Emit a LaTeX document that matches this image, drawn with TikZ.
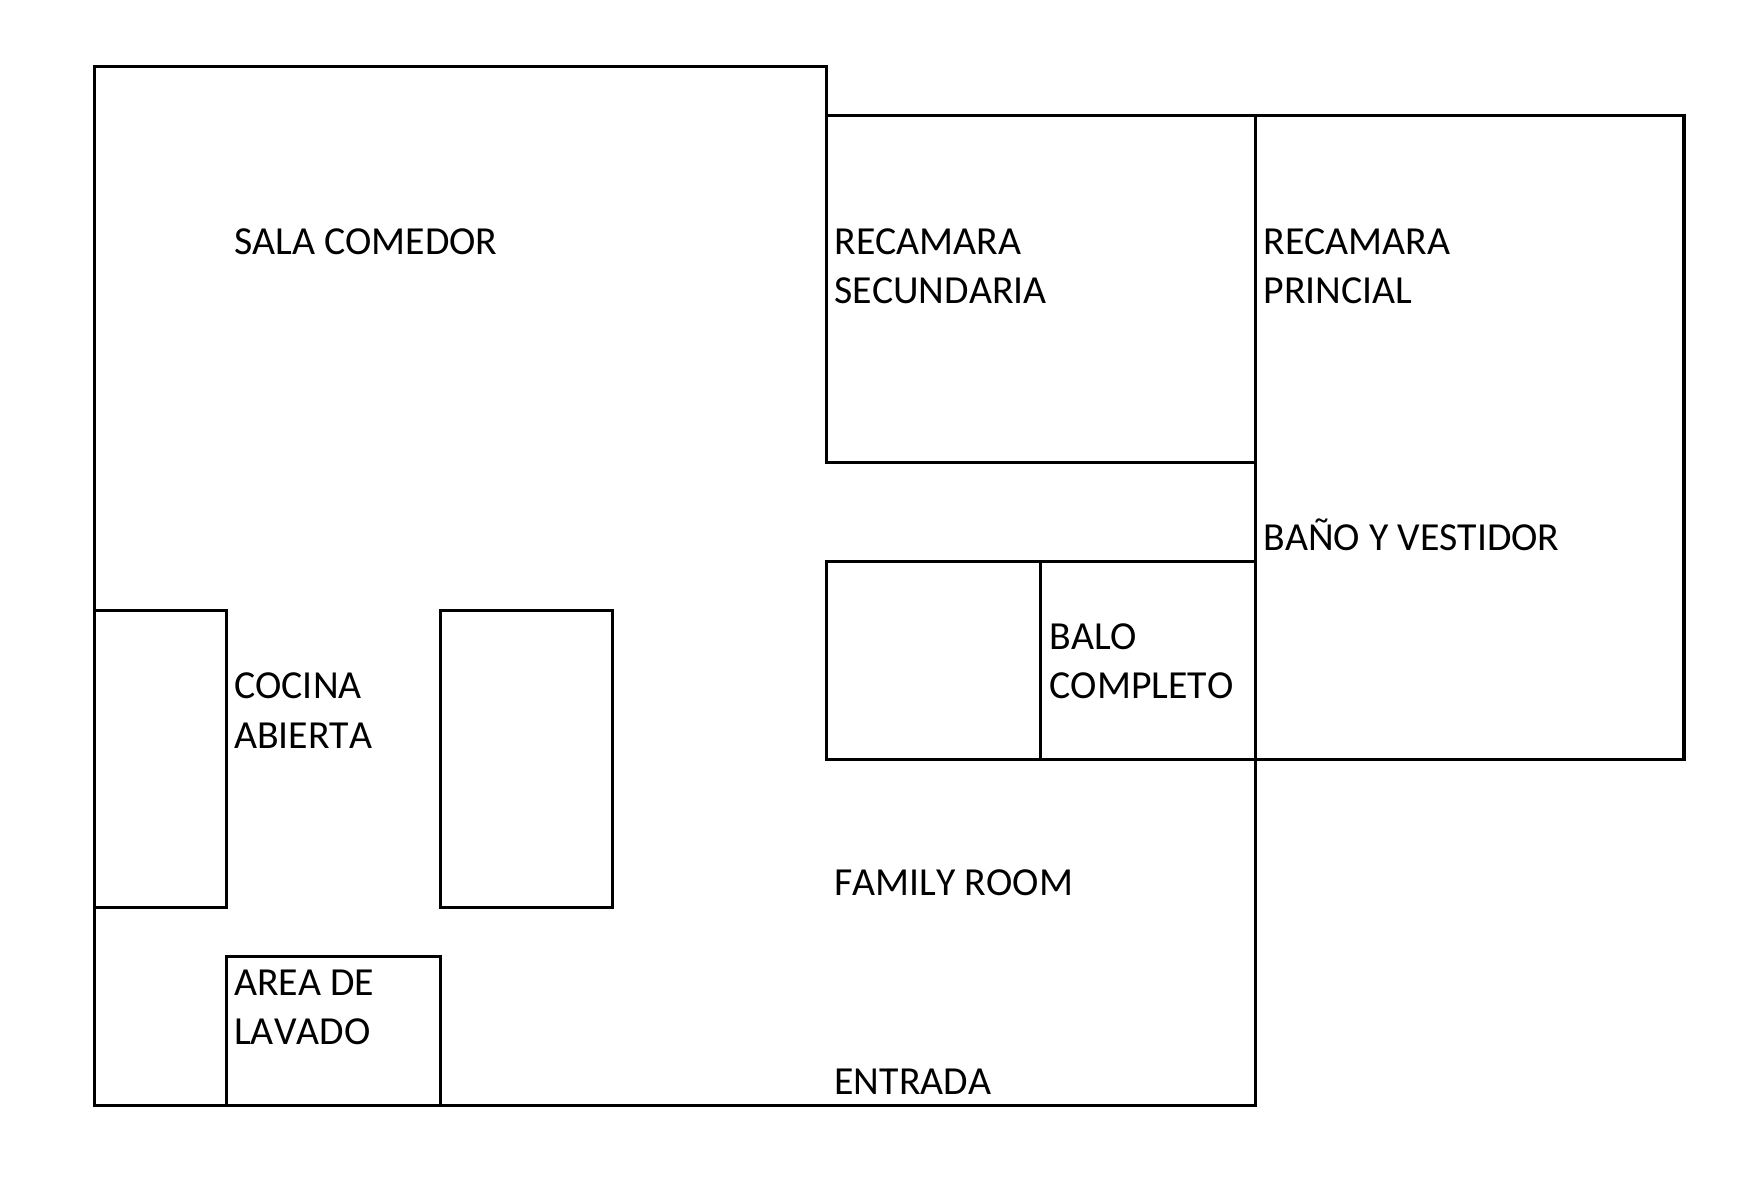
\documentclass[tikz,border=0pt]{standalone}
\usepackage{fontspec}
\setmainfont[Kerning=Off]{Carlito}
\tikzset{
  roomlabel/.style={anchor=base west,inner sep=0pt,align=left,font=\fontsize{35.5}{44}\selectfont},
  wall/.style={line width=2.8pt,line join=miter}
}
\begin{document}
\begin{tikzpicture}[x=1pt,y=-1pt]

      \useasboundingbox (0,0) rectangle (1568,1069.7);

      \coordinate (A) at (84.7,59.7);
      \coordinate (B) at (738,59.7);
      \coordinate (C) at (738,103.5);
      \coordinate (D) at (1503.7,103.5);
      \coordinate (E) at (1503.7,678);
      \coordinate (F) at (1121,678);
      \coordinate (G) at (1121,987);
      \coordinate (H) at (84.7,987);
      \coordinate (T) at (1121,103.5);

      % outer walls
      \draw[wall] (A)--(B)--(C)--(D)--(E)--(F)--(G)--(H)--cycle;
      \draw[wall] (T)--(F);

      % bedroom and bath
      \draw[wall] (738,103.5) rectangle (1121,413);
      \draw[wall] (738,501) rectangle (1121,678);
      \draw[wall] (929,501)--(929,678);

      % kitchen and laundry
      \draw[wall] (84.7,545) rectangle (202.5,810);
      \draw[wall] (393.7,545) rectangle (547,810);
      \draw[wall] (202.5,854) rectangle (393.7,987);

      \node[roomlabel] (sala) at (209,227) {SALA COMEDOR};
      \node[roomlabel] (secundaria) at (745,271) {RECAMARA\\SECUNDARIA};
      \node[roomlabel] (principal) at (1128,271) {RECAMARA\\PRINCIAL};
      \node[roomlabel] (vestidor) at (1128,492) {BAÑO Y VESTIDOR};
      \node[roomlabel] (balo) at (937,624) {BALO\\COMPLETO};
      \node[roomlabel] (cocina) at (209,668) {COCINA\\ABIERTA};
      \node[roomlabel] (family) at (745,800) {FAMILY ROOM};
      \node[roomlabel] (lavado) at (209,933) {AREA DE\\LAVADO};
      \node[roomlabel] (entrada) at (745,977) {ENTRADA};
  \end{tikzpicture}
\end{document}
